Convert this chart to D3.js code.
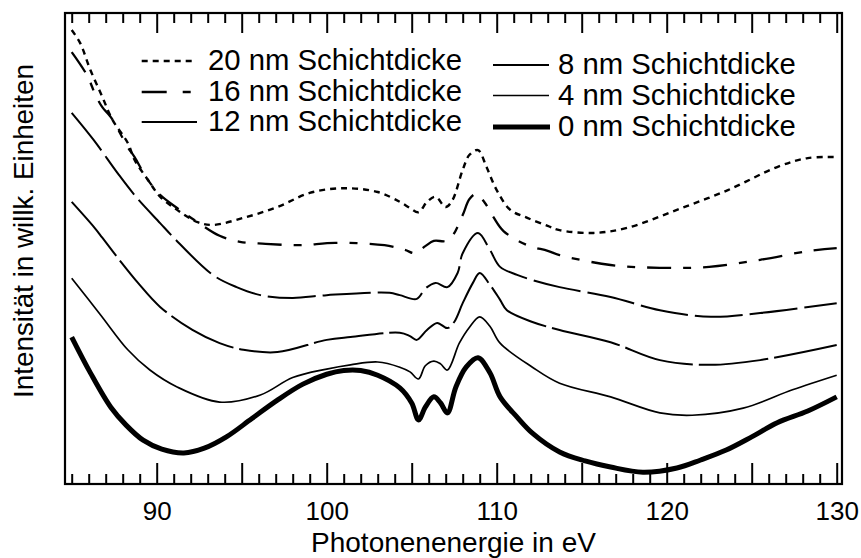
<!DOCTYPE html>
<html>
<head>
<meta charset="utf-8">
<script src="https://cdn.jsdelivr.net/npm/d3@7"></script>
<style>
  html, body { margin: 0; padding: 0; background: #fff; }
  svg { display: block; font-family: "Liberation Sans", Arial, Helvetica, sans-serif; }
</style>
</head>
<body>
<svg id="chart" width="861" height="558"></svg>
<script>
// Photon energy (eV) and intensity (arb. units) for each layer thickness
const ev20 = [85, 85.5, 86.1, 86.8, 87.4, 88.3, 88.7, 89.5, 90.2, 91.2, 92.4, 93.3, 95.1, 97.1, 99.0, 101.0, 103.0, 104.3, 104.9, 105.4, 105.9, 106.4, 107.0, 107.4, 108.0, 108.4, 108.9, 109.4, 110.0, 110.8, 111.8, 113.0, 113.7, 115.7, 117.7, 120.6, 123.6, 126.5, 128.3, 130];
const int20 = [96.4, 93.6, 87.9, 82.2, 77.3, 72.4, 68.8, 64.5, 61.0, 58.2, 55.6, 55.0, 56.5, 58.8, 61.8, 62.8, 62.0, 59.9, 58.6, 57.7, 59.9, 61.0, 58.8, 60.3, 66.7, 69.9, 70.9, 67.3, 62.4, 58.2, 56.5, 54.8, 53.9, 53.3, 54.4, 58.2, 62.4, 67.3, 69.2, 69.4];

const ev16 = [85, 85.9, 86.4, 86.8, 87.3, 88.3, 88.7, 89.4, 90.2, 91.2, 92.4, 93.7, 94.9, 96.4, 98.4, 100.5, 103.4, 104.6, 105.2, 105.8, 106.3, 107.0, 107.4, 108.0, 108.4, 108.8, 109.3, 109.8, 110.4, 111.8, 113.0, 113.7, 116.7, 119.6, 122.5, 125.5, 128.4, 130];
const int16 = [91.7, 86.8, 82.6, 80.0, 77.9, 71.5, 69.4, 65.0, 61.4, 58.6, 55.6, 52.7, 51.4, 51.0, 50.7, 51.2, 50.7, 49.7, 49.0, 50.5, 51.6, 51.6, 52.7, 57.1, 60.5, 61.6, 59.7, 56.7, 53.7, 50.7, 49.5, 48.6, 46.5, 45.9, 46.1, 47.6, 49.5, 50.1];

const ev12 = [85, 86.3, 87.7, 88.8, 90.2, 91.0, 93.3, 94.7, 96.1, 98.0, 100.0, 103.7, 104.3, 105.3, 105.8, 106.4, 107.1, 107.7, 108.0, 108.9, 109.6, 110.2, 111.2, 112.1, 113.7, 116.7, 119.6, 122.6, 125.5, 130];
const int12 = [78.8, 73.0, 66.0, 60.9, 55.4, 52.3, 44.4, 41.8, 40.1, 39.5, 40.1, 40.6, 40.1, 39.3, 41.5, 42.7, 41.8, 44.8, 49.0, 53.3, 49.7, 46.1, 44.4, 43.3, 41.8, 39.7, 36.9, 35.5, 36.3, 38.4];

const ev8 = [85, 86.3, 86.8, 87.8, 88.9, 90.2, 92.1, 93.7, 95.1, 97.1, 100.0, 101.4, 104.3, 104.9, 105.3, 105.9, 106.5, 107.1, 107.5, 108.0, 108.6, 109.0, 109.6, 110.2, 110.6, 112.1, 113.7, 116.7, 119.6, 122.6, 125.5, 130];
const int8 = [59.9, 54.6, 52.3, 47.6, 42.7, 37.6, 32.7, 29.9, 28.5, 28.0, 30.6, 31.2, 32.1, 31.4, 30.6, 32.7, 34.2, 33.1, 34.4, 38.4, 42.7, 44.8, 42.3, 39.1, 36.9, 34.4, 32.7, 30.1, 26.3, 25.3, 26.3, 29.5];

const ev4 = [85, 86.7, 88.3, 89.6, 91.2, 93.7, 96.1, 98.0, 100.0, 101.4, 103.0, 104.3, 104.9, 105.4, 105.8, 106.3, 106.7, 107.1, 107.8, 108.4, 109.0, 109.6, 110.2, 112.1, 113.7, 116.7, 119.6, 121.5, 124.5, 127.4, 130];
const int4 = [43.7, 35.9, 28.5, 24.2, 20.6, 17.4, 18.9, 22.6, 24.4, 25.3, 25.9, 24.8, 23.8, 22.3, 25.1, 26.1, 25.5, 24.2, 29.9, 33.3, 35.5, 33.5, 29.9, 24.8, 21.4, 18.5, 15.1, 14.6, 16.1, 20.0, 23.1];

const ev0 = [85, 86.1, 87.3, 88.2, 89.2, 90.3, 91.6, 92.8, 94.1, 95.6, 97.1, 98.6, 100.0, 101.0, 102.0, 103.0, 104.3, 105.0, 105.4, 105.8, 106.3, 106.7, 107.1, 107.6, 108.2, 108.9, 109.6, 110.2, 111.2, 112.1, 113.7, 115.2, 116.7, 118.6, 120.6, 122.0, 123.5, 125.0, 126.5, 128.3, 130];
const int0 = [31.2, 23.6, 16.3, 12.5, 9.3, 7.4, 6.6, 7.6, 10.0, 13.9, 17.8, 21.2, 23.3, 24.1, 24.1, 23.1, 20.4, 17.2, 13.6, 16.3, 18.5, 17.2, 15.1, 20.6, 24.8, 26.8, 23.6, 18.5, 14.2, 10.8, 6.8, 4.9, 3.6, 2.5, 3.4, 5.1, 7.2, 10.0, 13.0, 15.5, 18.5];

const legendLabels = ["20 nm Schichtdicke", "16 nm Schichtdicke", "12 nm Schichtdicke",
                      "8 nm Schichtdicke", "4 nm Schichtdicke", "0 nm Schichtdicke"];
const majorTicks = [90, 95, 100, 105, 110, 115, 120, 125, 130];
const labelTicks = [90, 100, 110, 120, 130];
const xTitle = "Photonenenergie in eV";
const yTitle = "Intensität in willk. Einheiten";

// Line appearance per series
const styles = [
  { width: 2.4, dash: "6,5" },
  { width: 2.3, dash: "24,12,8,12" },
  { width: 2.0, dash: "48,7" },
  { width: 2.0, dash: "70,6" },
  { width: 1.7, dash: null },
  { width: 5.0, dash: null }
];

const series = [
  [ev20, int20], [ev16, int16], [ev12, int12], [ev8, int8], [ev4, int4], [ev0, int0]
].map(([ev, v], i) => ({ label: legendLabels[i], pts: ev.map((e, k) => [e, v[k]]), style: styles[i] }));

const svg = d3.select("#chart");
const frame = { left: 65, right: 842, top: 13, bottom: 484 };

const x = d3.scaleLinear().domain([85, 130]).range([71.7, 836.7]);
const y = d3.scaleLinear().domain([0, 100]).range([frame.bottom, frame.top]);

const minorTicks = d3.range(85, 131).filter(v => v % 5 !== 0 || v === 85);

// Bottom ticks (pointing inward) with labels
const gB = svg.append("g").attr("transform", `translate(0,${frame.bottom})`);
gB.append("g").call(d3.axisBottom(x).tickValues(minorTicks).tickSize(-10).tickFormat(""));
gB.append("g").call(d3.axisBottom(x).tickValues(majorTicks).tickSize(-21).tickPadding(18)
  .tickFormat(d => labelTicks.includes(d) ? d : ""));

// Top ticks (pointing inward)
const gT = svg.append("g").attr("transform", `translate(0,${frame.top})`);
gT.append("g").call(d3.axisTop(x).tickValues(minorTicks).tickSize(-10).tickFormat(""));
gT.append("g").call(d3.axisTop(x).tickValues(majorTicks).tickSize(-20).tickFormat(""));

svg.selectAll(".domain").remove();
svg.selectAll(".tick line").attr("stroke", "#000").attr("stroke-width", 2);
svg.selectAll(".tick text").attr("font-size", 26).attr("fill", "#000")
  .attr("font-family", "'Liberation Sans', Arial, sans-serif");

// Frame
svg.append("rect")
  .attr("x", frame.left).attr("y", frame.top)
  .attr("width", frame.right - frame.left).attr("height", frame.bottom - frame.top)
  .attr("fill", "none").attr("stroke", "#000").attr("stroke-width", 2.2);

// Curves
const line = d3.line().x(d => x(d[0])).y(d => y(d[1])).curve(d3.curveCatmullRom.alpha(0.5));
svg.append("g").selectAll("path").data(series).join("path")
  .attr("d", d => line(d.pts))
  .attr("fill", "none")
  .attr("stroke", "#000")
  .attr("stroke-width", d => d.style.width)
  .attr("stroke-dasharray", d => d.style.dash)
  .attr("stroke-linejoin", "round");

// Legend
const legendPos = [
  { x1: 141.7, x2: 192, tx: 208, base: 70 },
  { x1: 141.7, x2: 192, tx: 208, base: 101 },
  { x1: 141.7, x2: 197, tx: 208, base: 131 },
  { x1: 493, x2: 549, tx: 558, base: 74 },
  { x1: 493, x2: 549, tx: 558, base: 104.5 },
  { x1: 493, x2: 550, tx: 558, base: 136 }
];
const legendDash = ["6,5", "25,16,8,20", null, null, null, null];
const lg = svg.append("g");
series.forEach((s, i) => {
  const p = legendPos[i];
  lg.append("line")
    .attr("x1", p.x1).attr("x2", p.x2)
    .attr("y1", p.base - 9).attr("y2", p.base - 9)
    .attr("stroke", "#000").attr("stroke-width", s.style.width)
    .attr("stroke-dasharray", legendDash[i]);
  lg.append("text")
    .attr("x", p.tx).attr("y", p.base)
    .attr("font-size", 29.3).attr("fill", "#000")
    .text(s.label);
});

// Axis titles
svg.append("text")
  .attr("x", (frame.left + frame.right) / 2).attr("y", 551.5)
  .attr("text-anchor", "middle").attr("font-size", 28)
  .text(xTitle);
svg.append("text")
  .attr("transform", "translate(33,231) rotate(-90)")
  .attr("text-anchor", "middle").attr("font-size", 27.8)
  .text(yTitle);
</script>
</body>
</html>
